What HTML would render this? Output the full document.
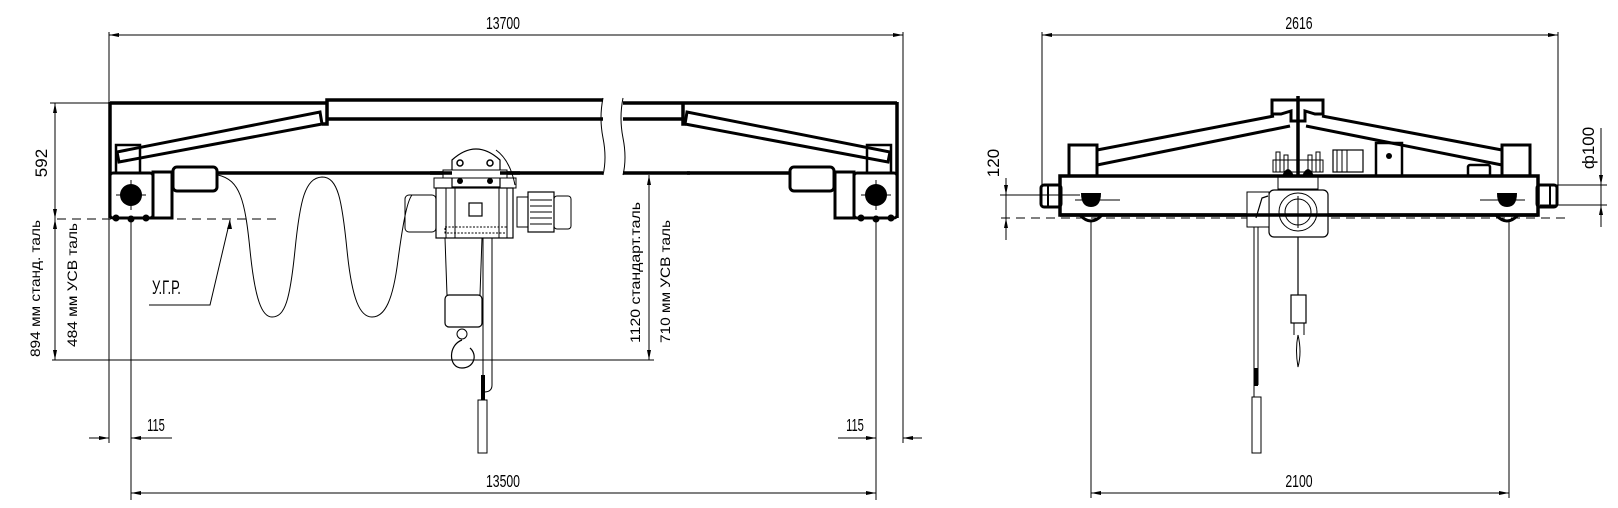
<!DOCTYPE html>
<html><head><meta charset="utf-8"><style>
html,body{margin:0;padding:0;background:#fff;width:1618px;height:508px;overflow:hidden}
svg{display:block}
text{font-family:"Liberation Sans",sans-serif;fill:#000}
</style></head><body>
<svg width="1618" height="508" viewBox="0 0 1618 508" xmlns="http://www.w3.org/2000/svg">
<defs>
<marker id="ar" viewBox="0 0 10 6" refX="10" refY="3" markerWidth="10" markerHeight="6" orient="auto-start-reverse" markerUnits="userSpaceOnUse">
<path d="M0,1 L10,3 L0,5 z" fill="#000"/></marker>
<g id="endL">
 <line x1="110" y1="102" x2="110" y2="218" stroke="#000" stroke-width="3.5"/>
 <polygon points="117,152 320,112 322,124 119,162" fill="none" stroke="#000" stroke-width="3"/>
 <rect x="116" y="145" width="24" height="28" fill="none" stroke="#000" stroke-width="2.5"/>
 <rect x="110" y="173" width="43" height="45" rx="3" fill="#fff" stroke="#000" stroke-width="3"/>
 <circle cx="131" cy="195" r="11" fill="#000"/>
 <line x1="116" y1="195" x2="146" y2="195" stroke="#000" stroke-width="1"/>
 <line x1="131" y1="180" x2="131" y2="210" stroke="#000" stroke-width="1"/>
 <circle cx="116" cy="218" r="3.5" fill="#000"/><circle cx="131" cy="219" r="3.5" fill="#000"/><circle cx="146" cy="218" r="3.5" fill="#000"/>
 <rect x="153" y="172" width="19" height="46" fill="none" stroke="#000" stroke-width="3"/>
 <rect x="173" y="167" width="44" height="24" rx="4" fill="none" stroke="#000" stroke-width="3"/>
 <line x1="217" y1="173" x2="320" y2="173" stroke="#000" stroke-width="3.5"/>
</g>
</defs>

<line x1="109" y1="32" x2="109" y2="443" stroke="#000" stroke-width="1"/>
<line x1="903" y1="32" x2="903" y2="443" stroke="#000" stroke-width="1"/>
<line x1="109" y1="35" x2="903" y2="35" stroke="#000" stroke-width="1" marker-start="url(#ar)" marker-end="url(#ar)"/>
<text x="503" y="29" font-size="18" text-anchor="middle" transform="translate(503 0) scale(0.68 1) translate(-503 0)">13700</text>

<line x1="131" y1="220" x2="131" y2="500" stroke="#000" stroke-width="1"/>
<line x1="876" y1="220" x2="876" y2="500" stroke="#000" stroke-width="1"/>
<line x1="131" y1="493" x2="876" y2="493" stroke="#000" stroke-width="1" marker-start="url(#ar)" marker-end="url(#ar)"/>
<text x="503" y="487" font-size="18" text-anchor="middle" transform="translate(503 0) scale(0.68 1) translate(-503 0)">13500</text>

<line x1="89" y1="438" x2="109" y2="438" stroke="#000" stroke-width="1" marker-end="url(#ar)"/>
<line x1="172" y1="438" x2="131" y2="438" stroke="#000" stroke-width="1" marker-end="url(#ar)"/>
<text x="156" y="431" font-size="18" text-anchor="middle" transform="translate(156 0) scale(0.62 1) translate(-156 0)">115</text>
<line x1="838" y1="438" x2="876" y2="438" stroke="#000" stroke-width="1" marker-end="url(#ar)"/>
<line x1="922" y1="438" x2="903" y2="438" stroke="#000" stroke-width="1" marker-end="url(#ar)"/>
<text x="855" y="431" font-size="18" text-anchor="middle" transform="translate(855 0) scale(0.62 1) translate(-855 0)">115</text>

<line x1="55" y1="103" x2="55" y2="219" stroke="#000" stroke-width="1" marker-start="url(#ar)" marker-end="url(#ar)"/>
<line x1="55" y1="219" x2="55" y2="360" stroke="#000" stroke-width="1" marker-start="url(#ar)" marker-end="url(#ar)"/>
<line x1="50" y1="103" x2="110" y2="103" stroke="#000" stroke-width="1"/>
<line x1="52" y1="360" x2="654" y2="360" stroke="#000" stroke-width="1"/>
<text transform="translate(47 163) rotate(-90)" font-size="17" text-anchor="middle">592</text>
<text transform="translate(40 357) rotate(-90)" font-size="14" textLength="137" lengthAdjust="spacingAndGlyphs">894 мм станд. таль</text>
<text transform="translate(77 347) rotate(-90)" font-size="14" textLength="124" lengthAdjust="spacingAndGlyphs">484 мм УСВ таль</text>
<line x1="649" y1="175" x2="649" y2="360" stroke="#000" stroke-width="1" marker-start="url(#ar)" marker-end="url(#ar)"/>
<text transform="translate(640 343) rotate(-90)" font-size="14" textLength="141" lengthAdjust="spacingAndGlyphs">1120 стандарт.таль</text>
<text transform="translate(670 343) rotate(-90)" font-size="14" textLength="123" lengthAdjust="spacingAndGlyphs">710 мм УСВ таль</text>

<line x1="57" y1="219" x2="276" y2="219" stroke="#000" stroke-width="1" stroke-dasharray="9,6"/>
<text x="152" y="294" font-size="19" transform="translate(152 0) scale(0.68 1) translate(-152 0)">У.Г.Р.</text>
<polyline points="149,305 210,305 230,220" fill="none" stroke="#000" stroke-width="1"/>
<path d="M230,220 l-3,9 l5,0 z" fill="#000"/>

<line x1="110" y1="103" x2="327" y2="103" stroke="#000" stroke-width="3.5"/>
<polyline points="322,124 327,124 327,100 603,100" fill="none" stroke="#000" stroke-width="3.5"/>
<line x1="327" y1="119" x2="603" y2="119" stroke="#000" stroke-width="3.5"/>
<line x1="320" y1="173" x2="603" y2="173" stroke="#000" stroke-width="3.5"/>
<path d="M603,98 q-4,20 0,40 q4,20 0,37" fill="none" stroke="#000" stroke-width="1"/>
<path d="M623,98 q-4,20 0,40 q4,20 0,37" fill="none" stroke="#000" stroke-width="1"/>
<line x1="623" y1="103" x2="683" y2="103" stroke="#000" stroke-width="3.5"/>
<line x1="623" y1="119" x2="683" y2="119" stroke="#000" stroke-width="3.5"/>
<line x1="623" y1="173" x2="690" y2="173" stroke="#000" stroke-width="3.5"/>
<polyline points="683,103 683,124 686,124" fill="none" stroke="#000" stroke-width="3.5"/>
<line x1="683" y1="103" x2="897" y2="103" stroke="#000" stroke-width="3.5"/>
<use href="#endL"/>
<use href="#endL" transform="translate(1007 0) scale(-1 1)"/>

<path d="M218,175 C240,180 245,200 250,250 C255,300 262,317 272,317 C285,317 290,300 295,250 C300,200 305,178 322,177 C338,177 342,200 347,250 C352,300 360,317 372,317 C385,317 393,300 398,260 C404,215 408,200 412,195" fill="none" stroke="#000" stroke-width="1"/>

<path d="M452,187 L452,160 Q476,138 500,160 L500,187 Z" fill="#fff" stroke="#000" stroke-width="1.2"/>
<circle cx="460" cy="163" r="3" fill="none" stroke="#000" stroke-width="1.5"/>
<circle cx="490" cy="163" r="3" fill="none" stroke="#000" stroke-width="1.5"/>
<circle cx="460" cy="181" r="3" fill="#000"/><circle cx="490" cy="181" r="3" fill="#000"/>
<path d="M496,150 Q510,160 515,185" fill="none" stroke="#000" stroke-width="1"/>
<rect x="443" y="170" width="64" height="8" fill="#fff" stroke="#000" stroke-width="1"/>
<line x1="430" y1="173" x2="452" y2="173" stroke="#000" stroke-width="3.5"/>
<line x1="500" y1="173" x2="520" y2="173" stroke="#000" stroke-width="3.5"/>
<rect x="434" y="178" width="82" height="10" fill="none" stroke="#000" stroke-width="1"/>
<rect x="405" y="195" width="31" height="37" rx="4" fill="none" stroke="#000" stroke-width="1"/>
<rect x="436" y="188" width="77" height="50" fill="none" stroke="#000" stroke-width="1.2"/>
<line x1="446" y1="188" x2="446" y2="238" stroke="#000" stroke-width="1"/>
<line x1="455" y1="188" x2="455" y2="238" stroke="#000" stroke-width="1"/>
<line x1="499" y1="188" x2="499" y2="238" stroke="#000" stroke-width="1"/>
<line x1="507" y1="188" x2="507" y2="238" stroke="#000" stroke-width="1"/>
<rect x="469" y="203" width="13" height="13" fill="none" stroke="#000" stroke-width="1.2"/>
<rect x="445" y="227" width="62" height="6" fill="none" stroke="#000" stroke-width="1" stroke-dasharray="2,1.5"/>
<rect x="517" y="197" width="11" height="30" fill="none" stroke="#000" stroke-width="1"/>
<rect x="528" y="192" width="26" height="40" fill="none" stroke="#000" stroke-width="1.2"/>
<g stroke="#000" stroke-width="1"><line x1="530" y1="200" x2="552" y2="200"/><line x1="530" y1="206" x2="552" y2="206"/><line x1="530" y1="212" x2="552" y2="212"/><line x1="530" y1="218" x2="552" y2="218"/><line x1="530" y1="224" x2="552" y2="224"/></g>
<rect x="554" y="196" width="17" height="33" rx="3" fill="none" stroke="#000" stroke-width="1"/>
<path d="M445,238 L447,295 L480,295 L482,238" fill="none" stroke="#000" stroke-width="1"/>
<rect x="445" y="295" width="37" height="32" rx="4" fill="none" stroke="#000" stroke-width="1.2"/>
<circle cx="462" cy="334" r="5" fill="none" stroke="#000" stroke-width="1"/>
<path d="M462,340 C448,345 448,368 462,368 C474,368 478,355 470,348" fill="none" stroke="#000" stroke-width="1.2"/>
<line x1="483" y1="238" x2="483" y2="400" stroke="#000" stroke-width="1"/>
<line x1="492" y1="238" x2="492" y2="385" stroke="#000" stroke-width="1"/>
<path d="M492,385 Q492,392 484,392" fill="none" stroke="#000" stroke-width="1"/>
<rect x="481" y="375" width="4" height="25" fill="#000"/>
<rect x="478" y="400" width="9" height="53" fill="none" stroke="#000" stroke-width="1"/>

<line x1="1042" y1="32" x2="1042" y2="188" stroke="#000" stroke-width="1"/>
<line x1="1558" y1="32" x2="1558" y2="188" stroke="#000" stroke-width="1"/>
<line x1="1042" y1="35" x2="1558" y2="35" stroke="#000" stroke-width="1" marker-start="url(#ar)" marker-end="url(#ar)"/>
<text x="1299" y="29" font-size="18" text-anchor="middle" transform="translate(1299 0) scale(0.68 1) translate(-1299 0)">2616</text>
<line x1="1091" y1="220" x2="1091" y2="498" stroke="#000" stroke-width="1"/>
<line x1="1509" y1="220" x2="1509" y2="498" stroke="#000" stroke-width="1"/>
<line x1="1091" y1="493" x2="1509" y2="493" stroke="#000" stroke-width="1" marker-start="url(#ar)" marker-end="url(#ar)"/>
<text x="1299" y="487" font-size="18" text-anchor="middle" transform="translate(1299 0) scale(0.68 1) translate(-1299 0)">2100</text>
<line x1="1006" y1="178" x2="1006" y2="195" stroke="#000" stroke-width="1" marker-end="url(#ar)"/>
<line x1="1006" y1="240" x2="1006" y2="218" stroke="#000" stroke-width="1" marker-end="url(#ar)"/>
<line x1="1006" y1="195" x2="1006" y2="218" stroke="#000" stroke-width="1"/>
<line x1="1000" y1="195" x2="1080" y2="195" stroke="#000" stroke-width="1"/>
<text transform="translate(999 163) rotate(-90)" font-size="17" text-anchor="middle">120</text>
<line x1="1601" y1="128" x2="1601" y2="185" stroke="#000" stroke-width="1" marker-end="url(#ar)"/>
<line x1="1601" y1="227" x2="1601" y2="205" stroke="#000" stroke-width="1" marker-end="url(#ar)"/>
<line x1="1601" y1="185" x2="1601" y2="205" stroke="#000" stroke-width="1"/>
<line x1="1540" y1="185" x2="1607" y2="185" stroke="#000" stroke-width="1"/>
<line x1="1540" y1="205" x2="1607" y2="205" stroke="#000" stroke-width="1"/>
<text transform="translate(1594 148) rotate(-90)" font-size="17" text-anchor="middle">ф100</text>
<line x1="1001" y1="218" x2="1567" y2="218" stroke="#000" stroke-width="1" stroke-dasharray="9,6"/>

<rect x="1060" y="176" width="478" height="39" fill="none" stroke="#000" stroke-width="3.5"/>
<rect x="1041" y="185" width="20" height="22" rx="3" fill="none" stroke="#000" stroke-width="3"/>
<line x1="1048" y1="185" x2="1048" y2="207" stroke="#000" stroke-width="2"/>
<rect x="1537" y="185" width="20" height="22" rx="3" fill="none" stroke="#000" stroke-width="3"/>
<line x1="1550" y1="185" x2="1550" y2="207" stroke="#000" stroke-width="2"/>
<path d="M1081,193 h20 q0,14 -10,14 q-10,0 -10,-14 z" fill="#000"/>
<path d="M1497,193 h20 q0,14 -10,14 q-10,0 -10,-14 z" fill="#000"/>
<line x1="1075" y1="200" x2="1120" y2="200" stroke="#000" stroke-width="1"/>
<line x1="1480" y1="200" x2="1525" y2="200" stroke="#000" stroke-width="1"/>
<path d="M1080,215 q11,12 22,0" fill="none" stroke="#000" stroke-width="3"/>
<path d="M1496,215 q11,12 22,0" fill="none" stroke="#000" stroke-width="3"/>
<rect x="1069" y="145" width="28" height="31" fill="none" stroke="#000" stroke-width="3"/>
<rect x="1502" y="145" width="28" height="31" fill="none" stroke="#000" stroke-width="3"/>
<line x1="1097" y1="150" x2="1274" y2="116" stroke="#000" stroke-width="3"/>
<line x1="1097" y1="165" x2="1290" y2="126" stroke="#000" stroke-width="3"/>
<line x1="1502" y1="150" x2="1322" y2="116" stroke="#000" stroke-width="3"/>
<line x1="1502" y1="165" x2="1306" y2="126" stroke="#000" stroke-width="3"/>
<path d="M1272,100 h51 v14 h-8 l-10,-3 v10 h-14 v-10 l-10,3 h-9 z" fill="none" stroke="#000" stroke-width="3"/>
<line x1="1298" y1="96" x2="1298" y2="176" stroke="#000" stroke-width="3.5"/>
<g stroke="#000" stroke-width="1" fill="none">
<rect x="1276" y="152" width="4" height="20"/><rect x="1284" y="155" width="4" height="17"/>
<rect x="1308" y="155" width="4" height="17"/><rect x="1316" y="152" width="4" height="20"/>
<rect x="1273" y="160" width="50" height="12"/>
</g>
<path d="M1282,176 q6,-14 12,0 z M1302,176 q6,-14 12,0 z" fill="#000"/>
<rect x="1333" y="150" width="30" height="22" fill="none" stroke="#000" stroke-width="1.2"/>
<g stroke="#000" stroke-width="1"><line x1="1337" y1="150" x2="1337" y2="172"/><line x1="1342" y1="150" x2="1342" y2="172"/><line x1="1347" y1="150" x2="1347" y2="172"/></g>
<rect x="1376" y="143" width="26" height="33" fill="none" stroke="#000" stroke-width="2.5"/>
<circle cx="1389" cy="156" r="3" fill="#000"/>
<rect x="1468" y="165" width="22" height="11" rx="2" fill="none" stroke="#000" stroke-width="2.5"/>
<rect x="1278" y="177" width="40" height="12" fill="none" stroke="#000" stroke-width="1"/>
<rect x="1269" y="190" width="59" height="47" rx="5" fill="#fff" stroke="#000" stroke-width="1.2"/>
<rect x="1247" y="192" width="22" height="35" fill="#fff" stroke="#000" stroke-width="1"/>
<path d="M1256,218 l6,-20 l6,-2" fill="none" stroke="#000" stroke-width="1.2"/>
<circle cx="1298" cy="212" r="19" fill="none" stroke="#000" stroke-width="1"/>
<circle cx="1298" cy="212" r="13" fill="none" stroke="#000" stroke-width="1"/>
<line x1="1298" y1="196" x2="1298" y2="228" stroke="#000" stroke-width="1"/>
<line x1="1060" y1="215" x2="1538" y2="215" stroke="#000" stroke-width="3.5"/>
<line x1="1298" y1="237" x2="1298" y2="295" stroke="#000" stroke-width="1.2"/>
<rect x="1291" y="295" width="15" height="28" fill="none" stroke="#000" stroke-width="1.2"/>
<path d="M1294,323 v12 M1304,323 v12 M1298,335 q-3,15 0,32 q4,-15 0,-32" fill="none" stroke="#000" stroke-width="1"/>
<line x1="1254" y1="227" x2="1254" y2="397" stroke="#000" stroke-width="1"/>
<line x1="1258" y1="227" x2="1258" y2="385" stroke="#000" stroke-width="1"/>
<rect x="1254" y="368" width="4" height="18" fill="#000"/>
<rect x="1252" y="397" width="9" height="56" fill="none" stroke="#000" stroke-width="1"/>
</svg>
</body></html>
